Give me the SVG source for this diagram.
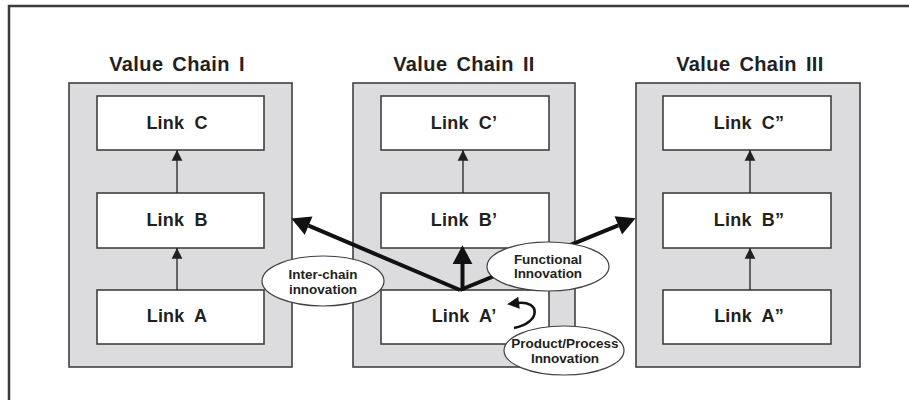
<svg xmlns="http://www.w3.org/2000/svg" width="909" height="400" viewBox="0 0 909 400">
  <style>
    .frame { fill: #ffffff; stroke: #3a3a3a; stroke-width: 2.5; }
    .chain { fill: #dcdcde; stroke: #404040; stroke-width: 1.6; }
    .link { fill: #ffffff; stroke: #404040; stroke-width: 1.6; }
    .title { font-family: "Liberation Sans", Arial, sans-serif; font-weight: bold; font-size: 20px; letter-spacing: 0.4px; word-spacing: 3px; fill: #231f20; text-anchor: middle; }
    .ltxt { font-family: "Liberation Sans", Arial, sans-serif; font-weight: bold; font-size: 18px; letter-spacing: 0.2px; word-spacing: 5px; fill: #231f20; text-anchor: middle; }
    .etxt { font-family: "Liberation Sans", Arial, sans-serif; font-weight: bold; font-size: 13.5px; fill: #231f20; text-anchor: middle; }
    .bubble { fill: #ffffff; stroke: #404040; stroke-width: 1.2; }
    .thin { fill: none; stroke: #231f20; stroke-width: 1.3; }
    .thick { fill: none; stroke: #111111; stroke-width: 4; }
    .curl { fill: none; stroke: #111111; stroke-width: 2.6; }
  </style>
  <defs>
    <marker id="small" markerUnits="userSpaceOnUse" markerWidth="12" markerHeight="12" viewBox="0 -5 9 10" refX="9" refY="0" orient="auto">
      <path d="M0,-4.5 L9,0 L0,4.5 z" fill="#231f20"/>
    </marker>
    <marker id="big" markerUnits="userSpaceOnUse" markerWidth="20" markerHeight="22" viewBox="0 -10 17 20" refX="0" refY="0" orient="auto" overflow="visible">
      <path d="M0,-9 L17,0 L0,9 z" fill="#111111"/>
    </marker>
    <marker id="mid" markerUnits="userSpaceOnUse" markerWidth="14" markerHeight="14" viewBox="0 -7 12 14" refX="2" refY="0" orient="auto" overflow="visible">
      <path d="M0,-6 L12,0 L0,6 z" fill="#111111"/>
    </marker>
  </defs>

  <rect class="frame" x="9" y="6" width="920" height="420"/>

  <g id="chain1">
    <rect class="chain" x="69" y="83" width="223" height="284"/>
    <text class="title" x="177" y="71">Value Chain I</text>
  </g>
  <g id="linkC">
    <rect class="link" x="97" y="96" width="167" height="54"/>
    <text class="ltxt" x="177" y="129">Link C</text>
  </g>
  <g id="linkB">
    <rect class="link" x="97" y="193" width="167" height="55"/>
    <text class="ltxt" x="177" y="226">Link B</text>
  </g>
  <g id="linkA">
    <rect class="link" x="97" y="290" width="167" height="54"/>
    <text class="ltxt" x="177" y="322">Link A</text>
  </g>

  <g id="chain2">
    <rect class="chain" x="353" y="83" width="222" height="284"/>
    <text class="title" x="464" y="71">Value Chain II</text>
  </g>
  <g id="linkC2">
    <rect class="link" x="381" y="96" width="168" height="54"/>
    <text class="ltxt" x="464" y="129">Link C’</text>
  </g>
  <g id="linkB2">
    <rect class="link" x="381" y="193" width="168" height="55"/>
    <text class="ltxt" x="464" y="226">Link B’</text>
  </g>
  <g id="linkA2">
    <rect class="link" x="381" y="290" width="168" height="54"/>
    <text class="ltxt" x="464" y="322">Link A’</text>
  </g>

  <g id="chain3">
    <rect class="chain" x="636" y="83" width="224" height="284"/>
    <text class="title" x="750" y="71">Value Chain III</text>
  </g>
  <g id="linkC3">
    <rect class="link" x="663" y="96" width="168" height="54"/>
    <text class="ltxt" x="749" y="129">Link C”</text>
  </g>
  <g id="linkB3">
    <rect class="link" x="663" y="193" width="168" height="55"/>
    <text class="ltxt" x="749" y="226">Link B”</text>
  </g>
  <g id="linkA3">
    <rect class="link" x="663" y="290" width="168" height="54"/>
    <text class="ltxt" x="749" y="322">Link A”</text>
  </g>

  <g id="connectors">
    <line class="thin" x1="177" y1="193" x2="177" y2="150" marker-end="url(#small)"/>
    <line class="thin" x1="177" y1="290" x2="177" y2="248" marker-end="url(#small)"/>
    <line class="thin" x1="463" y1="193" x2="463" y2="150" marker-end="url(#small)"/>
    <line class="thin" x1="750" y1="193" x2="750" y2="150" marker-end="url(#small)"/>
    <line class="thin" x1="750" y1="290" x2="750" y2="248" marker-end="url(#small)"/>
    <path class="thick" d="M460,290 L308.6,225.7" marker-end="url(#big)"/>
    <path class="thick" d="M460,290 L618.3,225.4" marker-end="url(#big)"/>
    <path class="thick" d="M462.5,291 L462.5,264" marker-end="url(#big)"/>
    <path class="curl" d="M514,328 C541,323 541,300 517,303" marker-end="url(#mid)"/>
  </g>

  <g id="interchain">
    <ellipse class="bubble" cx="323" cy="281" rx="61" ry="25"/>
    <text class="etxt" x="323" y="279">Inter-chain</text>
    <text class="etxt" x="323" y="294">innovation</text>
  </g>
  <g id="functional">
    <ellipse class="bubble" cx="548" cy="266.5" rx="61" ry="24.5"/>
    <text class="etxt" x="548" y="263.5">Functional</text>
    <text class="etxt" x="548" y="278">Innovation</text>
  </g>
  <g id="productprocess">
    <ellipse class="bubble" cx="564" cy="350.5" rx="60" ry="24.5"/>
    <text class="etxt" x="565" y="348">Product/Process</text>
    <text class="etxt" x="565" y="362.5">Innovation</text>
  </g>
</svg>
